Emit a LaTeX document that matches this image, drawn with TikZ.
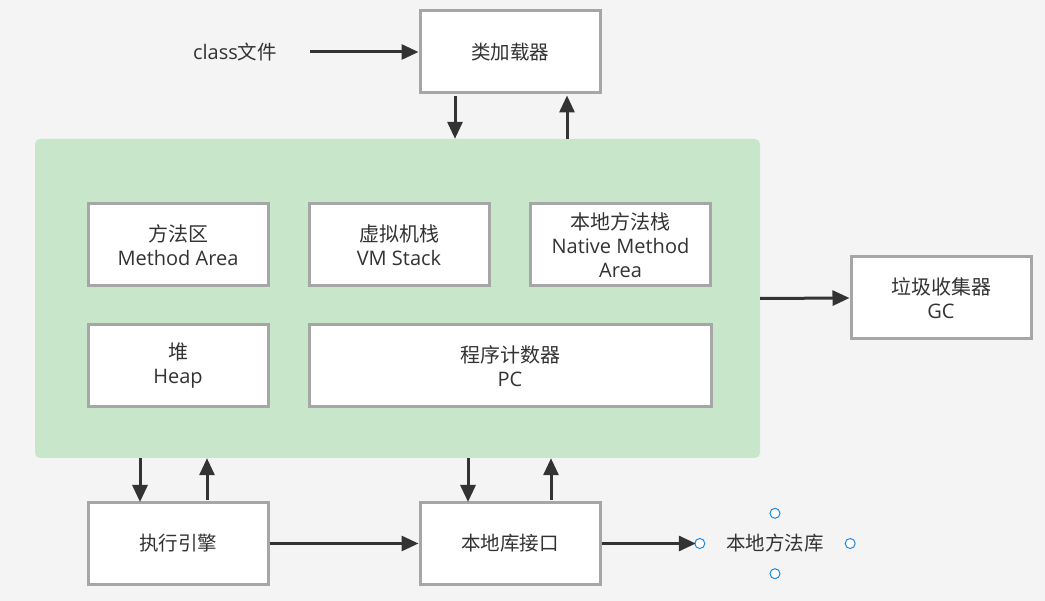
\documentclass[tikz,border=0pt]{standalone}
\usepackage{fontspec}
\setmainfont{Open Sans}
\newfontfamily\cjk{Noto Sans CJK SC}
\usetikzlibrary{arrows.meta}

\definecolor{bggray}{HTML}{F4F4F4}
\definecolor{jvmgreen}{HTML}{C8E6C9}
\definecolor{boxborder}{HTML}{A6A6A6}
\definecolor{arrowdark}{HTML}{333333}
\definecolor{handleblue}{HTML}{1E88E5}

\begin{document}
\begin{tikzpicture}[x=1pt, y=-1pt,
    box/.style={draw=boxborder, fill=white, line width=3pt, minimum width=180pt,
        minimum height=82pt, align=center, text=arrowdark, font=\fontsize{20}{24}\selectfont},
    arr/.style={draw=arrowdark, line width=3pt, -{Triangle[length=17pt,width=15pt]}},
    handle/.style={circle, draw=handleblue, fill=white, line width=1pt, inner sep=0pt, minimum size=10pt}]
    % Background
    \fill[bggray] (0,0) rectangle (1045,601);
    \useasboundingbox (0,0) rectangle (1045,601);

    % JVM runtime area
    \node[fill=jvmgreen, rounded corners=5pt, minimum width=725pt, minimum height=319pt, inner sep=0pt] (jvm) at (397.5,298.5) {};

    % Class loader
    \node[box] (loader) at (510,52) {\cjk\fontsize{19.5}{24}\selectfont 类加载器};
    \node[text=arrowdark, font=\fontsize{20}{24}\selectfont] (classfile) at (235,52) {class{\cjk\fontsize{19.5}{24}\selectfont 文件}};

    % Runtime data areas
    \node[box] (method) at (178,245) {{\cjk 方法区}\\Method Area};
    \node[box] (vmstack) at (399,245) {{\cjk 虚拟机栈}\\VM Stack};
    \node[box] (nstack) at (620.5,245) {{\cjk 本地方法栈}\\Native Method\\Area};
    \node[box] (heap) at (178,366) {{\cjk 堆}\\Heap};
    \node[box, minimum width=402pt] (pc) at (510,366) {{\cjk 程序计数器}\\PC};

    % Garbage collector
    \node[box] (gc) at (941,298) {{\cjk 垃圾收集器}\\GC};

    % Execution engine and native interface
    \node[box] (engine) at (178,543.5) {\cjk\fontsize{19.5}{24}\selectfont 执行引擎};
    \node[box] (nif) at (510,543.5) {\cjk\fontsize{19.5}{24}\selectfont 本地库接口};

    % Native library (selected text)
    \node[minimum width=150pt, minimum height=60pt, inner sep=0pt, text=arrowdark, font=\cjk\fontsize{19.5}{24}\selectfont] (nlib) at (775,543.5) {本地方法库};
    \node[handle] at (nlib.west) {};
    \node[handle] at (nlib.east) {};
    \node[handle] at (nlib.north) {};
    \node[handle] at (nlib.south) {};

    % Arrows
    \draw[arr] (classfile.east) ++(30,0) -- (loader.west);
    \draw[arr] ([xshift=-55pt,yshift=-2pt]loader.south) -- ([xshift=-55pt]loader.south |- jvm.north);
    \draw[arr] ([xshift=57pt]loader.south |- jvm.north) -- ([xshift=57pt,yshift=-1pt]loader.south);
    \draw[arr] (jvm.east) -- (gc.west);
    \draw[arr] ([xshift=-38pt]engine.north |- jvm.south) -- ([xshift=-38pt,yshift=-1pt]engine.north);
    \draw[arr] ([xshift=29pt,yshift=1pt]engine.north) -- ([xshift=29pt]engine.north |- jvm.south);
    \draw[arr] ([xshift=-42pt]nif.north |- jvm.south) -- ([xshift=-42pt,yshift=-1pt]nif.north);
    \draw[arr] ([xshift=41pt,yshift=1pt]nif.north) -- ([xshift=41pt]nif.north |- jvm.south);
    \draw[arr] (engine.east) -- (nif.west);
    \draw[arr] (nif.east) -- ([xshift=-4pt]nlib.west);
\end{tikzpicture}
\end{document}
